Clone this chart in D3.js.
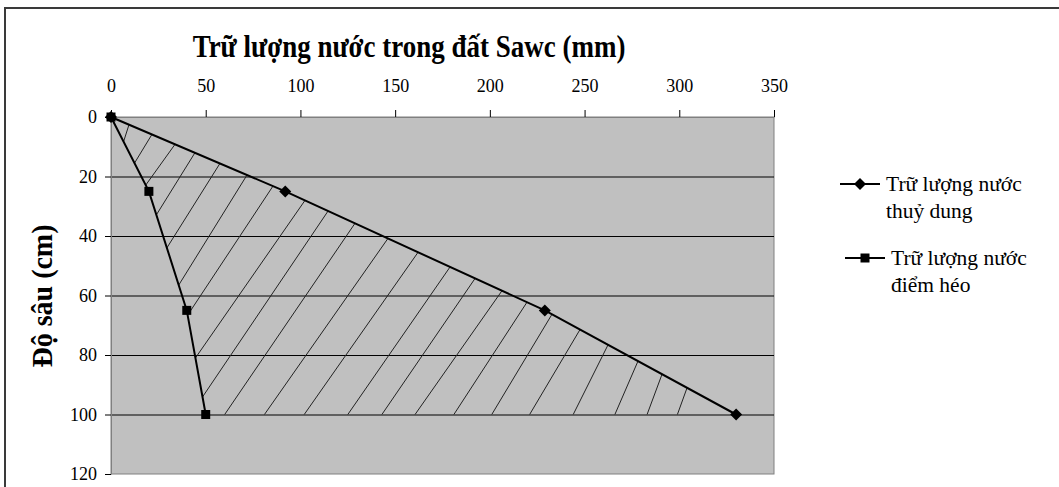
<!DOCTYPE html>
<html><head><meta charset="utf-8">
<script src="https://cdn.jsdelivr.net/npm/d3@7"></script>
<style>
html,body{margin:0;padding:0;background:#fff;}
svg{display:block;}
text{font-family:"Liberation Serif","Times New Roman",serif;fill:#000;}
</style></head>
<body><svg id="c" width="1059" height="487"></svg>
<script>
// ---- data ----
const depths = [0, 25, 65, 100];               // Độ sâu (cm)
const fcValues = [0, 92, 229, 330];            // Trữ lượng nước thuỷ dung (mm)
const wpValues = [0, 20, 40, 50];              // Trữ lượng nước điểm héo (mm)
const xTicks = [0, 50, 100, 150, 200, 250, 300, 350];
const yTicks = [0, 20, 40, 60, 80, 100, 120];
const seriesNames = [["Trữ lượng nước", "thuỷ dung"], ["Trữ lượng nước", "điểm héo"]];
const titleText = "Trữ lượng nước trong đất Sawc (mm)";
const yTitle = "Độ sâu (cm)";
// hatching between the two curves (hand drawn in the original)
const hatchTopValues = [9.5, 21.6, 33.8, 44.3, 57.5, 71.8, 85.5, 102.4, 114.6, 128.8, 146.2, 162.1, 179, 192.2, 206.4, 219.6, 232.8, 247.6, 262.4, 278.2, 290.9, 304.1];
const hatchBottomDepths = [8.3, 15.5, 22.9, 32.9, 44, 56.5, 66.6, 81, 94.1];
const hatchBottomValues = [60, 81, 102, 125, 143, 160.5, 181, 201, 221, 244, 266, 283, 299];

// ---- layout ----
const svg = d3.select("#c");
const L = 111, R = 774, T = 117, B = 474;
const x = d3.scaleLinear().domain([0, 350]).range([L, R]);
const y = d3.scaleLinear().domain([0, 120]).range([T, B]);

// outer frame
svg.append("rect").attr("x", 5).attr("y", 8).attr("width", 1100).attr("height", 600)
  .attr("fill", "#fff").attr("stroke", "#3a3a3a").attr("stroke-width", 2);

// plot area
svg.append("rect").attr("x", L).attr("y", T).attr("width", R - L).attr("height", B - T)
  .attr("fill", "#c0c0c0").attr("stroke", "#808080").attr("stroke-width", 1);

// gridlines
svg.append("g").selectAll("line").data(yTicks.filter(d => d > 0 && d < 120)).join("line")
  .attr("x1", L).attr("x2", R).attr("y1", d => y(d) + 0.5).attr("y2", d => y(d) + 0.5)
  .attr("stroke", "#000").attr("stroke-width", 1);

// hatching
const fcDepth = d3.scaleLinear().domain(fcValues).range(depths);
const wpAt = d3.scaleLinear().domain(depths).range(wpValues);
const bottoms = hatchBottomDepths.map(d => [wpAt(d), d]).concat(hatchBottomValues.map(v => [v, 100]));
const hatch = hatchTopValues.map((v, i) => ({b: bottoms[i], t: [v, fcDepth(v)]}));
svg.append("g").selectAll("line").data(hatch).join("line")
  .attr("x1", d => x(d.b[0])).attr("y1", d => y(d.b[1]))
  .attr("x2", d => x(d.t[0])).attr("y2", d => y(d.t[1]))
  .attr("stroke", "#222").attr("stroke-width", 1);

// axes
const xAxis = svg.append("g").attr("transform", `translate(0,${T})`)
  .call(d3.axisTop(x).tickValues(xTicks).tickSize(7).tickSizeOuter(0).tickPadding(18));
xAxis.select(".domain").attr("stroke", "#808080");
xAxis.selectAll(".tick line").attr("stroke", "#000");
xAxis.selectAll("text").attr("font-size", 18).style("font-family", '"Liberation Serif",serif');

const yAxis = svg.append("g").attr("transform", `translate(${L},0)`)
  .call(d3.axisLeft(y).tickValues(yTicks).tickSize(6).tickSizeOuter(0).tickPadding(8));
yAxis.select(".domain").attr("stroke", "#808080");
yAxis.selectAll(".tick line").attr("stroke", "#000");
yAxis.selectAll("text").attr("font-size", 18).style("font-family", '"Liberation Serif",serif');

// series
const diamond = "M0,-6L6,0L0,6L-6,0Z";
const square = "M-4.5,-4.5H4.5V4.5H-4.5Z";
const line = d3.line();
const series = [
  {vals: fcValues, sym: diamond},
  {vals: wpValues, sym: square}
];
series.forEach(s => {
  const pts = s.vals.map((v, i) => [x(v), y(depths[i])]);
  svg.append("path").attr("d", line(pts)).attr("fill", "none")
    .attr("stroke", "#000").attr("stroke-width", 2);
  svg.append("g").selectAll("path").data(pts).join("path")
    .attr("d", s.sym).attr("transform", d => `translate(${d[0]},${d[1]})`).attr("fill", "#000");
});

// titles
svg.append("text").attr("transform", "translate(409,56.5) scale(1,1.15)").attr("text-anchor", "middle")
  .attr("font-size", 27).attr("font-weight", "bold").text(titleText);
svg.append("text").attr("transform", "translate(52,296) rotate(-90) scale(1,1.08)").attr("text-anchor", "middle")
  .attr("font-size", 28).attr("font-weight", "bold").text(yTitle);

// legend
const legY = [184, 258], legX = [840, 845];
series.forEach((s, i) => {
  const g = svg.append("g").attr("transform", `translate(${legX[i]},${legY[i]})`);
  g.append("line").attr("x1", 0).attr("x2", 40).attr("y1", 0).attr("y2", 0)
    .attr("stroke", "#000").attr("stroke-width", 2);
  g.append("path").attr("d", s.sym).attr("transform", "translate(20,0)");
  const t = g.append("text").attr("x", 46).attr("y", 7).attr("font-size", 21.5);
  t.append("tspan").attr("x", 46).text(seriesNames[i][0]);
  t.append("tspan").attr("x", 46).attr("dy", 27).text(seriesNames[i][1]);
});
</script></body></html>
